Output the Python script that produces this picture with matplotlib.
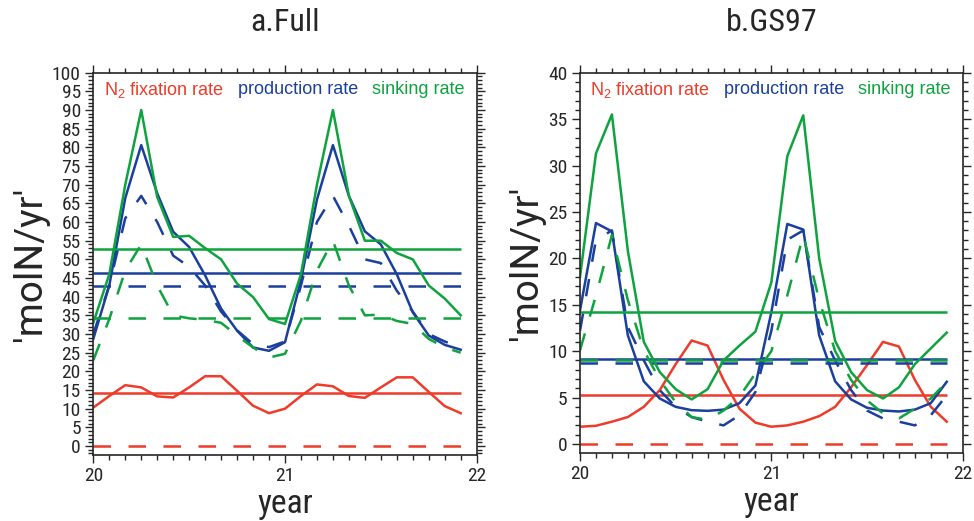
import matplotlib
matplotlib.use("Agg")
import matplotlib.pyplot as plt
import numpy as np
from matplotlib import font_manager as fm
from matplotlib.ticker import MultipleLocator

# ---------------- data ----------------
months = list(range(24))  # monthly samples from year 20.0

full_n2 = [10.3, 13.4, 16.3, 15.7, 13.3, 13.0, 15.7, 18.7, 18.7, 14.8, 10.8, 8.8,
           10.0, 13.4, 16.5, 16.0, 13.4, 12.9, 15.7, 18.4, 18.4, 14.5, 10.7, 8.8]
full_prod = [28.7, 43, 66.4, 80.6, 67.7, 57.4, 53.3, 45.7, 36.8, 30.9, 26.4, 25.5,
             27.8, 44.4, 66, 80.6, 67, 57.5, 54, 46, 35.8, 29.6, 27.1, 25.8]
full_prod_dash = [30, 43, 61, 67, 60, 51, 48, 43, 36, 31, 27.3, 26.5,
                  28, 43, 60, 67, 59, 50, 49, 41.6, 36, 30, 28, 26.5]
full_sink = [33, 46, 70, 90, 66.7, 56, 56.3, 53, 50, 43.5, 39.9, 34,
             32.7, 46, 70, 90, 67, 55, 55, 51.7, 50, 43, 39.5, 35]
full_sink_dash = [23, 34, 47, 54, 43, 35, 34.2, 33.8, 33, 29.6, 26.4, 23.7,
                  24.7, 33.6, 47, 55, 43, 35, 35.2, 33.5, 32.7, 28.7, 26.4, 25]
full_means = {"n2": 14.1, "n2_dash": 0.0, "prod": 46.3, "prod_dash": 42.9,
              "sink": 52.9, "sink_dash": 34.2}

gs_n2 = [1.86, 1.96, 2.4, 2.9, 4.0, 5.8, 8.6, 11.15, 10.6, 6.9, 3.8, 2.3,
         1.86, 2.0, 2.4, 3.0, 4.0, 6.1, 8.5, 11.0, 10.5, 6.9, 4.0, 2.4]
gs_prod = [14.4, 23.8, 22.9, 11.7, 6.75, 4.9, 4.0, 3.64, 3.57, 3.7, 4.4, 6.3,
           14.2, 23.7, 23.1, 11.7, 6.75, 4.8, 3.9, 3.6, 3.5, 3.7, 4.4, 6.7]
gs_prod_dash = [12.2, 22, 23, 12.6, 9, 5.8, 4.0, 2.9, 2.4, 2.0, 3.1, 5.6,
                12.2, 22, 23, 12.6, 9, 5.8, 3.6, 2.75, 2.4, 2.0, 3.1, 5.25]
gs_sink = [18, 31.3, 35.5, 20.8, 11, 7.75, 5.9, 4.8, 5.9, 9.0, 10.6, 12.1,
           17.4, 31, 35.4, 20, 11.1, 7.75, 5.8, 4.9, 6.1, 8.6, 10.3, 12.0]
gs_sink_dash = [10.1, 16, 22.5, 15.5, 10.1, 6.9, 4.5, 2.9, 2.6, 3.6, 5.1, 7.6,
                10, 16, 22.5, 15.5, 10, 6.9, 4.7, 3.3, 2.75, 3.8, 4.9, 6.7]
gs_means = {"n2": 5.25, "n2_dash": 0.0, "prod": 9.2, "prod_dash": 8.7,
            "sink": 14.25, "sink_dash": 9.0}

titles = ["a.Full", "b.GS97"]
legend_labels = [r"N$_2$ fixation rate", "production rate", "sinking rate"]

# ---------------- style ----------------
RED = "#EE3B2A"
BLUE = "#1B3F9C"
GREEN = "#0EA33F"
INK = "#262626"

avail = {f.name for f in fm.fontManager.ttflist}
def pick(*names):
    for n in names:
        if n in avail:
            return n
    return "DejaVu Sans"

NARROW = pick("Liberation Sans Narrow", "Roboto Condensed", "Open Sans Condensed",
              "Liberation Sans")
SANS = pick("Liberation Sans", "Arial", "DejaVu Sans")
WIDE = pick("Roboto", "Liberation Sans", "DejaVu Sans")

plt.rcParams["mathtext.fontset"] = "custom"
plt.rcParams["mathtext.rm"] = SANS
plt.rcParams["mathtext.it"] = SANS
plt.rcParams["font.family"] = [SANS, "DejaVu Sans"]

fig = plt.figure(figsize=(9.74, 5.21), dpi=100)
axes = [fig.add_axes([0.0958, 0.1267, 0.3936, 0.7338]),
        fig.add_axes([0.5955, 0.1311, 0.3929, 0.7294])]

LW = 1.8
DASH = (7, 7)

panels = [
    (full_n2, full_prod, full_prod_dash, full_sink, full_sink_dash, full_means,
     (-2.4, 100), 5),
    (gs_n2, gs_prod, gs_prod_dash, gs_sink, gs_sink_dash, gs_means,
     (-0.94, 40), 5),
]

x = 20 + np.array(months) / 12.0

for ax, title, (n2, prod, prod_d, sink, sink_d, means, ylim, ymaj) in zip(axes, titles, panels):
    ax.hlines(means["n2_dash"], x[0], x[-1], color=RED, lw=LW, linestyles=[(0, DASH)])
    ax.hlines(means["n2"], x[0], x[-1], color=RED, lw=LW)
    ax.plot(x, n2, color=RED, lw=LW)
    ax.hlines(means["prod_dash"], x[0], x[-1], color=BLUE, lw=LW, linestyles=[(0, DASH)])
    ax.hlines(means["prod"], x[0], x[-1], color=BLUE, lw=LW)
    ax.plot(x, prod_d, color=BLUE, lw=LW, dashes=DASH)
    ax.plot(x, prod, color=BLUE, lw=LW)
    ax.hlines(means["sink_dash"], x[0], x[-1], color=GREEN, lw=LW, linestyles=[(0, DASH)])
    ax.hlines(means["sink"], x[0], x[-1], color=GREEN, lw=LW)
    ax.plot(x, sink_d, color=GREEN, lw=LW, dashes=DASH)
    ax.plot(x, sink, color=GREEN, lw=LW)

    ax.set_xlim(20, 22)
    ax.set_ylim(*ylim)
    ax.xaxis.set_major_locator(MultipleLocator(1))
    ax.xaxis.set_minor_locator(MultipleLocator(1 / 12))
    ax.yaxis.set_major_locator(MultipleLocator(ymaj))
    ax.yaxis.set_minor_locator(MultipleLocator(1))
    ax.tick_params(which="both", direction="out", top=True, right=True,
                   width=1.0, color=INK)
    ax.tick_params(which="major", length=6, labelsize=14, pad=3)
    ax.tick_params(which="minor", length=3.5)
    for lab in ax.get_xticklabels() + ax.get_yticklabels():
        lab.set_fontfamily(NARROW)
        lab.set_color(INK)
    for s in ax.spines.values():
        s.set_linewidth(1.2)
        s.set_color(INK)

    ax.set_title(title, fontsize=23, family=NARROW, pad=30, color=INK)
    ax.set_xlabel("year", fontsize=24, family=NARROW, labelpad=2, color=INK)
    ax.set_ylabel("'molN/yr'", fontsize=28, family=WIDE, labelpad=2, color=INK)

    for lab, col, xp in zip(legend_labels, [RED, BLUE, GREEN], [0.027, 0.377, 0.727]):
        ax.text(xp, 0.955, lab, color=col, fontsize=13, family=SANS,
                transform=ax.transAxes, ha="left", va="center")

fig.savefig("out.png", dpi=100)
